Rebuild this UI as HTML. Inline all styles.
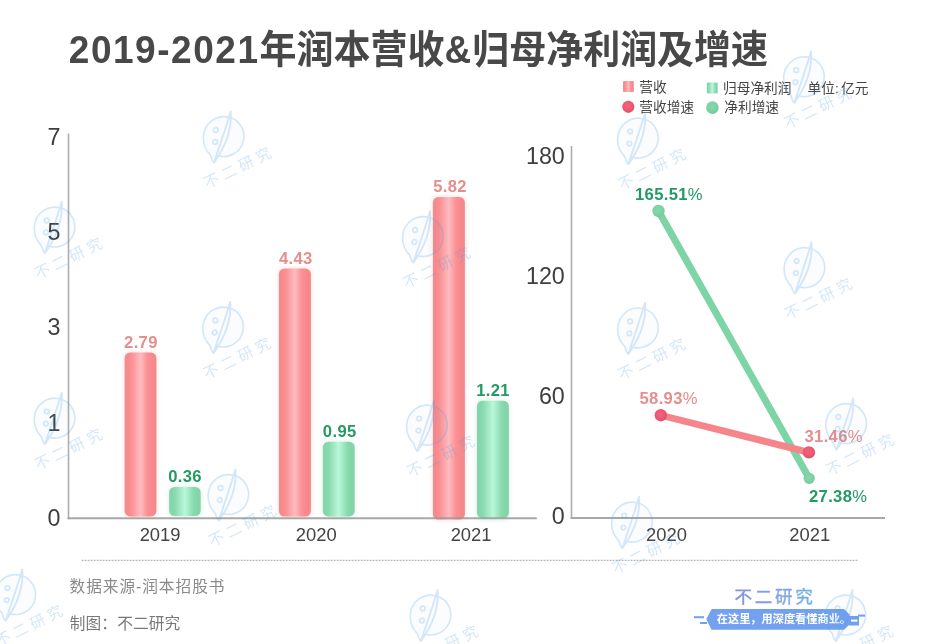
<!DOCTYPE html>
<html lang="zh">
<head>
<meta charset="utf-8">
<title>2019-2021年润本营收&amp;归母净利润及增速</title>
<style>
html,body{margin:0;padding:0;background:#fff;}
body{width:940px;height:644px;overflow:hidden;position:relative;font-family:"Liberation Sans","Noto Sans CJK SC",sans-serif;}
svg{position:absolute;left:0;top:0;display:block;}
text{font-family:"Liberation Sans","Noto Sans CJK SC",sans-serif;}
.title{font-size:38.6px;font-weight:bold;fill:#484848;}
.tick{font-size:23.3px;fill:#3e3e3e;}
.xlab{font-size:18.4px;fill:#444;}
.vr{font-size:16.6px;letter-spacing:0.35px;font-weight:bold;fill:#e68e8e;}
.vg{font-size:16.6px;letter-spacing:0.35px;font-weight:bold;fill:#239a63;}
.leg{font-size:13.7px;fill:#444;}
.foot{font-size:15.7px;fill:#8a8a8a;letter-spacing:0.95px;}
</style>
</head>
<body>
<svg width="940" height="644" viewBox="0 0 940 644">
<defs>
  <linearGradient id="gr" x1="0" y1="0" x2="1" y2="0">
    <stop offset="0" stop-color="#ec8e90"/>
    <stop offset="0.1" stop-color="#f9888c"/>
    <stop offset="0.22" stop-color="#fb9195"/>
    <stop offset="0.5" stop-color="#fdbbbf"/>
    <stop offset="0.72" stop-color="#fb9094"/>
    <stop offset="0.9" stop-color="#f8878b"/>
    <stop offset="1" stop-color="#e88e8e"/>
  </linearGradient>
  <linearGradient id="gg" x1="0" y1="0" x2="1" y2="0">
    <stop offset="0" stop-color="#92d0b2"/>
    <stop offset="0.08" stop-color="#82d6aa"/>
    <stop offset="0.2" stop-color="#8cdab1"/>
    <stop offset="0.5" stop-color="#b9f8da"/>
    <stop offset="0.78" stop-color="#88d9ae"/>
    <stop offset="0.92" stop-color="#80d5a8"/>
    <stop offset="1" stop-color="#92ceb0"/>
  </linearGradient>
  <radialGradient id="rd" cx="0.45" cy="0.42" r="0.6">
    <stop offset="0" stop-color="#f4647e"/>
    <stop offset="0.6" stop-color="#ec5872"/>
    <stop offset="1" stop-color="#dc4f68"/>
  </radialGradient>
  <radialGradient id="gd" cx="0.45" cy="0.42" r="0.6">
    <stop offset="0" stop-color="#86d8ae"/>
    <stop offset="0.7" stop-color="#7dd0a3"/>
    <stop offset="1" stop-color="#74c79a"/>
  </radialGradient>
  <filter id="halo" x="-40%" y="-10%" width="180%" height="120%"><feGaussianBlur stdDeviation="2.2"/></filter>
  <linearGradient id="lg" x1="0" y1="0" x2="1" y2="0">
    <stop offset="0" stop-color="#8490da"/>
    <stop offset="0.45" stop-color="#8a9fe2"/>
    <stop offset="1" stop-color="#6db6e6"/>
  </linearGradient>
  <g id="wm" fill="none" stroke="#4d9be3" stroke-width="1.7" stroke-linecap="round" stroke-linejoin="round">
    <g transform="scale(0.97)"><path d="M-13.5 19.5 C-24 9 -23.5 -8 -12 -16.5 C-2 -23.5 13 -21 18.8 -9 C24 2 19 16 6 19.8 C2 21 -3 21 -7 19.5 C-7.5 23 -8.5 25.5 -10.5 26.8 C-12 24.5 -13 22 -13.500 19.500 Z" fill="#4d9be3" fill-opacity="0.1"/></g>
    <path d="M7.000 -25.000 C8.3 -8 2 10 -9.5 26 C-4.5 10 1.5 -6 7.000 -25.000 Z" stroke-width="1.9"/>
    <circle cx="-7.9" cy="-6.4" r="2.3"/>
    <circle cx="-8.6" cy="5.6" r="2.3"/>
    <text transform="translate(-16.5,52.6) rotate(-26.5)" stroke="none" fill="#4d9be3" style="font-size:15.2px;letter-spacing:4.1px">不二研究</text>
  </g>
</defs>

<!-- title -->
<text class="title" transform="translate(68.8 63.05) scale(0.9587 1)"><tspan letter-spacing="1.6">2019-2021</tspan>年润本营收<tspan letter-spacing="1">&amp;</tspan>归母净利润及增速</text>

<!-- legend -->
<rect x="623" y="81" width="10.8" height="11" rx="1" fill="url(#gr)"/>
<text class="leg" x="639.2" y="91.9">营收</text>
<rect x="706.8" y="82.6" width="10.9" height="11" rx="1" fill="url(#gg)"/>
<text class="leg" x="723" y="93.2">归母净利润</text>
<text class="leg" x="807.5" y="93.2">单位:<tspan dx="2.3">亿元</tspan></text>
<circle cx="628.3" cy="106.8" r="6.1" fill="url(#rd)"/>
<text class="leg" x="639.3" y="111.8">营收增速</text>
<circle cx="712.4" cy="107.6" r="6.3" fill="url(#gd)"/>
<text class="leg" x="724.3" y="112">净利增速</text>

<!-- left chart -->
<text class="tick" x="47.5" y="145.2">7</text>
<text class="tick" x="47.5" y="240.3">5</text>
<text class="tick" x="47.5" y="335.4">3</text>
<text class="tick" x="47.5" y="430.5">1</text>
<text class="tick" x="47.5" y="525.5">0</text>

<g filter="url(#halo)" opacity="0.22"><rect x="123.6" y="351.6" width="33.8" height="165.8" rx="6" fill="#f58a8e"/><rect x="168.1" y="485.9" width="33.6" height="31.2" rx="6" fill="#7fd3a6"/><rect x="277.9" y="267.6" width="34" height="250" rx="6" fill="#f58a8e"/><rect x="321.8" y="440.8" width="33.9" height="76.6" rx="6" fill="#7fd3a6"/><rect x="431.9" y="195.9" width="34" height="324.6" rx="6" fill="#f58a8e"/><rect x="475.9" y="399.7" width="34" height="121" rx="6" fill="#7fd3a6"/></g>
<rect x="124.6" y="352.6" width="31.8" height="163.8" rx="5.5" fill="url(#gr)"/>
<rect x="169.1" y="486.9" width="31.6" height="29.2" rx="5.5" fill="url(#gg)"/>
<rect x="278.9" y="268.6" width="32" height="248" rx="5.5" fill="url(#gr)"/>
<rect x="322.8" y="441.8" width="31.9" height="74.6" rx="5.5" fill="url(#gg)"/>
<rect x="432.9" y="196.9" width="32" height="322.6" rx="5.5" fill="url(#gr)"/>
<rect x="476.9" y="400.7" width="32" height="117.3" rx="5.5" fill="url(#gg)"/>

<line x1="68.5" y1="133.5" x2="68.5" y2="519.2" stroke="#adadad" stroke-width="1.6"/>
<line x1="67.7" y1="518.2" x2="536.8" y2="518.2" stroke="#999" stroke-opacity="0.85" stroke-width="2"/>
<text class="vr" x="140.9" y="347.8" text-anchor="middle">2.79</text>
<text class="vg" x="185.1" y="481.5" text-anchor="middle">0.36</text>
<text class="vr" x="295.8" y="263.8" text-anchor="middle">4.43</text>
<text class="vg" x="339.7" y="436.9" text-anchor="middle">0.95</text>
<text class="vr" x="450" y="191.7" text-anchor="middle">5.82</text>
<text class="vg" x="493" y="395.5" text-anchor="middle">1.21</text>

<text class="xlab" x="160.1" y="541.2" text-anchor="middle">2019</text>
<text class="xlab" x="316.3" y="541.2" text-anchor="middle">2020</text>
<text class="xlab" x="471.1" y="540.5" text-anchor="middle">2021</text>

<!-- right chart -->
<line x1="571.5" y1="146" x2="571.5" y2="519" stroke="#adadad" stroke-width="1.6"/>
<line x1="570.7" y1="518" x2="885" y2="518" stroke="#a8a8a8" stroke-width="2"/>
<text class="tick" x="564.8" y="164" text-anchor="end">180</text>
<text class="tick" x="564.8" y="283.8" text-anchor="end">120</text>
<text class="tick" x="564.8" y="404" text-anchor="end">60</text>
<text class="tick" x="564.8" y="524.3" text-anchor="end">0</text>

<line x1="658.5" y1="211" x2="809.2" y2="478.3" stroke="#7dd4a5" stroke-width="7.1" stroke-linecap="round"/>
<circle cx="658.5" cy="211" r="6.2" fill="url(#gd)"/>
<circle cx="809.2" cy="478.3" r="5.6" fill="url(#gd)"/>
<line x1="660.8" y1="415.2" x2="808.9" y2="452.4" stroke="#f5858b" stroke-width="6.8" stroke-linecap="round"/>
<circle cx="660.8" cy="415.2" r="6.2" fill="url(#rd)"/>
<circle cx="808.9" cy="452.4" r="6.2" fill="url(#rd)"/>

<text class="vg" x="635" y="199.5">165.51<tspan font-weight="normal">%</tspan></text>
<text class="vr" x="639.5" y="403.5">58.93<tspan font-weight="normal">%</tspan></text>
<text class="vr" x="804.5" y="442">31.46<tspan font-weight="normal">%</tspan></text>
<text class="vg" x="809" y="501.5">27.38<tspan font-weight="normal">%</tspan></text>

<text class="xlab" x="666.5" y="541" text-anchor="middle">2020</text>
<text class="xlab" x="809.7" y="541" text-anchor="middle">2021</text>

<!-- footer -->
<line x1="81.7" y1="560.4" x2="857.4" y2="560.4" stroke="#b4b4b4" stroke-width="1.1" stroke-dasharray="1.8 1.2"/>
<text class="foot" x="69.5" y="591.8">数据来源-润本招股书</text>
<text class="foot" x="69.8" y="628.6" style="fill:#787878;letter-spacing:0.1px">制图：不二研究</text>

<!-- brand -->
<text x="734.6" y="602.6" style="font-size:17.6px;letter-spacing:2.6px" fill="url(#lg)" stroke="url(#lg)" stroke-width="0.35">不二研究</text>
<g fill="#73a1ef">
<polygon points="706.3,619.3 711.6,608.9 844,608.9 849.5,614.5 849.5,624.5 844,629.8 711.6,629.8"/>
<rect x="849" y="616" width="10" height="9.5"/>
<rect x="694" y="616.2" width="10" height="2"/>
<rect x="700" y="622" width="7" height="2"/>
<rect x="858" y="614.6" width="7" height="2"/>
</g>
<rect x="851" y="619.6" width="6.5" height="2" fill="#fff"/>
<text x="716.8" y="623.4" style="font-size:11.2px;font-weight:bold" fill="#fff">在这里，用深度看懂商业。</text>
<!-- watermarks -->
<g opacity="0.24">
<use href="#wm" x="223.7" y="136.4"/>
<use href="#wm" x="54.6" y="226.9"/>
<use href="#wm" x="423" y="236.4"/>
<use href="#wm" x="223.2" y="326.9"/>
<use href="#wm" x="54.6" y="418"/>
<use href="#wm" x="228.4" y="494.4"/>
<use href="#wm" x="804" y="76.6"/>
<use href="#wm" x="804.5" y="267.5"/>
<use href="#wm" x="427" y="425"/>
<use href="#wm" x="632" y="522"/>
<use href="#wm" x="638" y="138"/>
<use href="#wm" x="638" y="327.8"/>
<use href="#wm" x="846.2" y="423.4"/>
<use href="#wm" x="15.3" y="594.5"/>
<use href="#wm" x="430.6" y="614.9"/>
<use href="#wm" x="845.5" y="614.9"/>
</g>
</svg>
</body>
</html>
